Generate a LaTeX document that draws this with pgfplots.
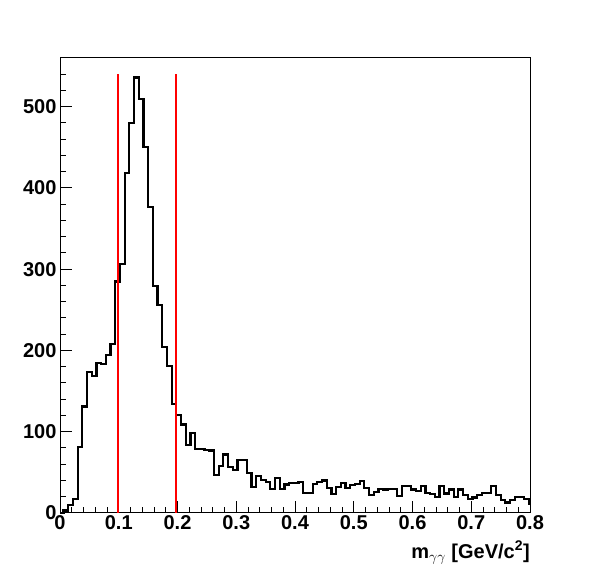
\documentclass[border=0pt]{standalone}
\usepackage{fontspec}
\setmainfont{Liberation Sans}
\usepackage{pgfplots}
\pgfplotsset{compat=1.18}
\begin{document}
\begin{tikzpicture}[x=1pt,y=1pt]
\path[use as bounding box] (0,0) rectangle (596,572);
\begin{axis}[
  at={(60pt,59pt)}, anchor=south west,
  scale only axis, width=470pt, height=455pt,
  xmin=0, xmax=0.8, ymin=0, ymax=560,
  axis line style={line width=1pt},
  tick align=inside, tick pos=left,
  xtick={0,0.1,0.2,0.3,0.4,0.5,0.6,0.7,0.8},
  xticklabels={0,0.1,0.2,0.3,0.4,0.5,0.6,0.7,0.8},
  ytick={0,100,200,300,400,500},
  minor xtick={0.02,0.04,0.06,0.08,0.12,0.14,0.16,0.18,0.22,0.24,0.26,0.28,0.32,0.34,0.36,0.38,0.42,0.44,0.46,0.48,0.52,0.54,0.56,0.58,0.62,0.64,0.66,0.68,0.72,0.74,0.76,0.78},
  minor ytick={20,40,60,80,120,140,160,180,220,240,260,280,320,340,360,380,420,440,460,480,520,540,560},
  major tick length=12pt, minor tick length=6pt,
  tick style={line width=1pt,black},
  /pgf/number format/assume math mode=true,
  ticklabel style={font=\fontsize{20}{24}\selectfont\bfseries},
  xticklabel style={yshift=1pt},
  xlabel={m$_{\gamma\gamma}$ [GeV/c\textsuperscript{2}]},
  xlabel style={at={(axis description cs:1,0)}, anchor=north east, yshift=-28pt, inner sep=0pt, font=\fontsize{20}{24}\selectfont\bfseries},
  clip=false,
]
\addplot[const plot, black, line width=2.2pt] coordinates {
(0,0) (0.006,3) (0.014,10) (0.022,17) (0.030,81) (0.038,131) (0.046,174) (0.054,169)
(0.062,185) (0.070,183) (0.078,194) (0.086,208) (0.094,285) (0.102,306) (0.110,418)
(0.118,480) (0.126,536) (0.134,510) (0.142,450) (0.150,377) (0.158,279) (0.166,256)
(0.174,204) (0.182,181) (0.190,134) (0.198,121) (0.206,109) (0.214,84) (0.222,98)
(0.230,79) (0.238,79) (0.246,78) (0.254,77) (0.262,47) (0.270,58) (0.278,72) (0.286,57)
(0.294,53) (0.302,65) (0.310,65) (0.318,49) (0.326,32) (0.334,46) (0.342,41) (0.350,38)
(0.358,30) (0.366,43) (0.374,30) (0.382,35) (0.390,37) (0.398,37) (0.406,38) (0.414,25)
(0.422,25) (0.430,36) (0.438,38) (0.446,40) (0.454,31) (0.462,23) (0.470,32) (0.478,37)
(0.486,31) (0.494,34) (0.502,36) (0.510,39) (0.518,31) (0.526,22) (0.534,26) (0.542,30)
(0.550,29) (0.558,30) (0.566,30) (0.574,21) (0.582,33) (0.590,33) (0.598,29) (0.606,27)
(0.614,33) (0.622,25) (0.630,23) (0.638,20) (0.646,33) (0.654,24) (0.662,29) (0.670,20)
(0.678,29) (0.686,22) (0.694,17) (0.702,19) (0.710,22) (0.718,25) (0.726,25) (0.734,33)
(0.742,22) (0.750,16) (0.758,13) (0.766,16) (0.774,20) (0.782,20) (0.790,17) (0.798,11)
(0.800,11)
};
\addplot[red, line width=2pt] coordinates {(0.098,0) (0.098,540)};
\addplot[red, line width=2pt] coordinates {(0.198,0) (0.198,540)};
\end{axis}
\end{tikzpicture}
\end{document}
